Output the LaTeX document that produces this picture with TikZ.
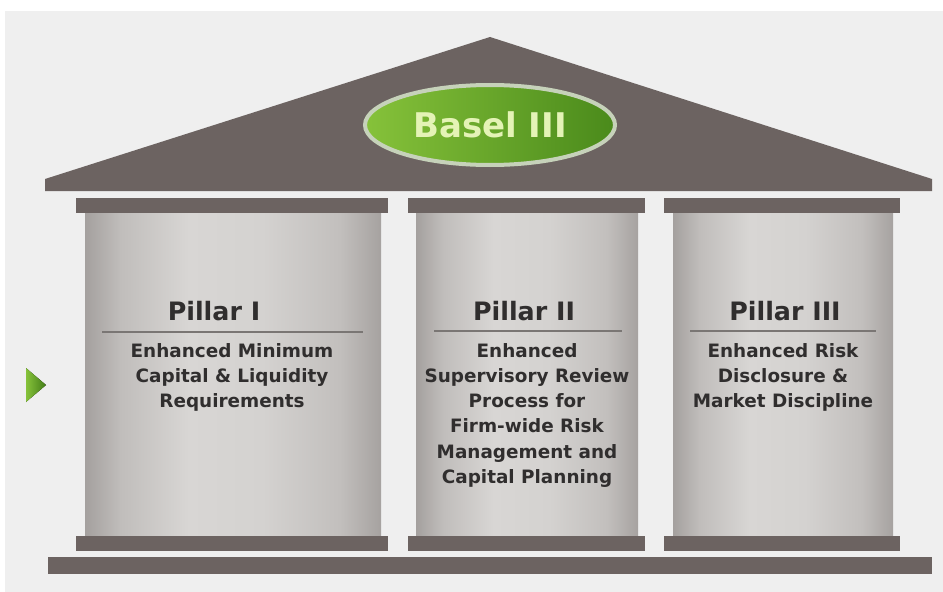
\documentclass[tikz,border=0pt]{standalone}
\usepackage{fontspec}
\setmainfont{DejaVu Sans}
\newfontfamily\headf{DejaVu Sans}
\usetikzlibrary{shapes.geometric}
\definecolor{bg}{HTML}{EFEFEF}
\definecolor{stone}{HTML}{6C6361}
\definecolor{txt}{HTML}{302E2E}
\definecolor{rulec}{HTML}{7A7674}
\definecolor{greenL}{HTML}{86C23A}
\definecolor{greenD}{HTML}{4A8A1B}
\definecolor{greenB}{HTML}{C6D2BA}
\definecolor{basel}{HTML}{E4F3B6}
\definecolor{sh0}{HTML}{A4A09E}
\definecolor{sh1}{HTML}{C0BDBB}
\definecolor{sh2}{HTML}{D8D6D4}
\definecolor{sh3}{HTML}{D4D2D0}
\definecolor{sh4}{HTML}{C2BFBD}
\definecolor{sh5}{HTML}{A6A2A0}
\pgfdeclarehorizontalshading{shaftshade}{100bp}{
  color(0bp)=(sh0);
  color(25bp)=(sh0);
  color(31bp)=(sh1);
  color(42.5bp)=(sh2);
  color(55bp)=(sh3);
  color(68bp)=(sh4);
  color(75bp)=(sh5);
  color(100bp)=(sh5)}
\begin{document}
\begin{tikzpicture}[x=0.75pt,y=-0.75pt,
  stoneblock/.style={fill=stone,draw=none},
  shaft/.style={shading=shaftshade,draw=none},
  ptitle/.style={font=\bfseries\fontsize{19}{22}\selectfont,text=txt,inner sep=0pt,anchor=base},
  pbody/.style={font=\bfseries\fontsize{13.8}{18.9}\selectfont,text=txt,align=center,inner sep=0pt,anchor=north},
  divider/.style={draw=rulec,line width=1.5pt}]
\useasboundingbox (0,0) rectangle (943,592);
\fill[white] (0,0) rectangle (943,592);
\fill[bg] (5,11) rectangle (943,592);
% roof
\fill[stoneblock] (45,191) -- (45,179) -- (490,37) -- (932,179) -- (932,191) -- cycle;
\node[ellipse,minimum width=187.5pt,minimum height=60pt,inner sep=0pt,
      left color=greenL,right color=greenD,draw=greenB,line width=3pt,
      text=basel,font=\headf\bfseries\fontsize{25.5}{28}\selectfont] (basel) at (490,125) {Basel III};
% plinth
\fill[stoneblock] (48,557) rectangle (932,574);
% pillars
\foreach \cl/\cr/\sl/\sr in {76/388/85/381, 408/645/416/638, 664/900/673/893}{
  \fill[shaft] (\sl,213) rectangle (\sr,536);
  \fill[stoneblock] (\cl,198) rectangle (\cr,213);
  \fill[stoneblock] (\cl,536) rectangle (\cr,551);
}
% texts
\node[ptitle] (t1) at (214,320) {Pillar I};
\node[ptitle] (t2) at (524,320) {Pillar II};
\node[ptitle] (t3) at (785,320) {Pillar III};
\draw[divider] (102,332) -- (363,332);
\draw[divider] (434,331) -- (622,331);
\draw[divider] (690,331) -- (876,331);
\node[pbody] (b1) at (232,343) {Enhanced Minimum\\Capital \& Liquidity\\Requirements};
\node[pbody] (b2) at (527,343) {Enhanced\\Supervisory Review\\Process for\\Firm-wide Risk\\Management and\\Capital Planning};
\node[pbody] (b3) at (783,343) {Enhanced Risk\\Disclosure \&\\Market Discipline};
% green marker
\fill[left color=greenL,right color=greenD!90!black] (26,368) -- (46,385) -- (26,402) -- cycle;
\end{tikzpicture}
\end{document}
